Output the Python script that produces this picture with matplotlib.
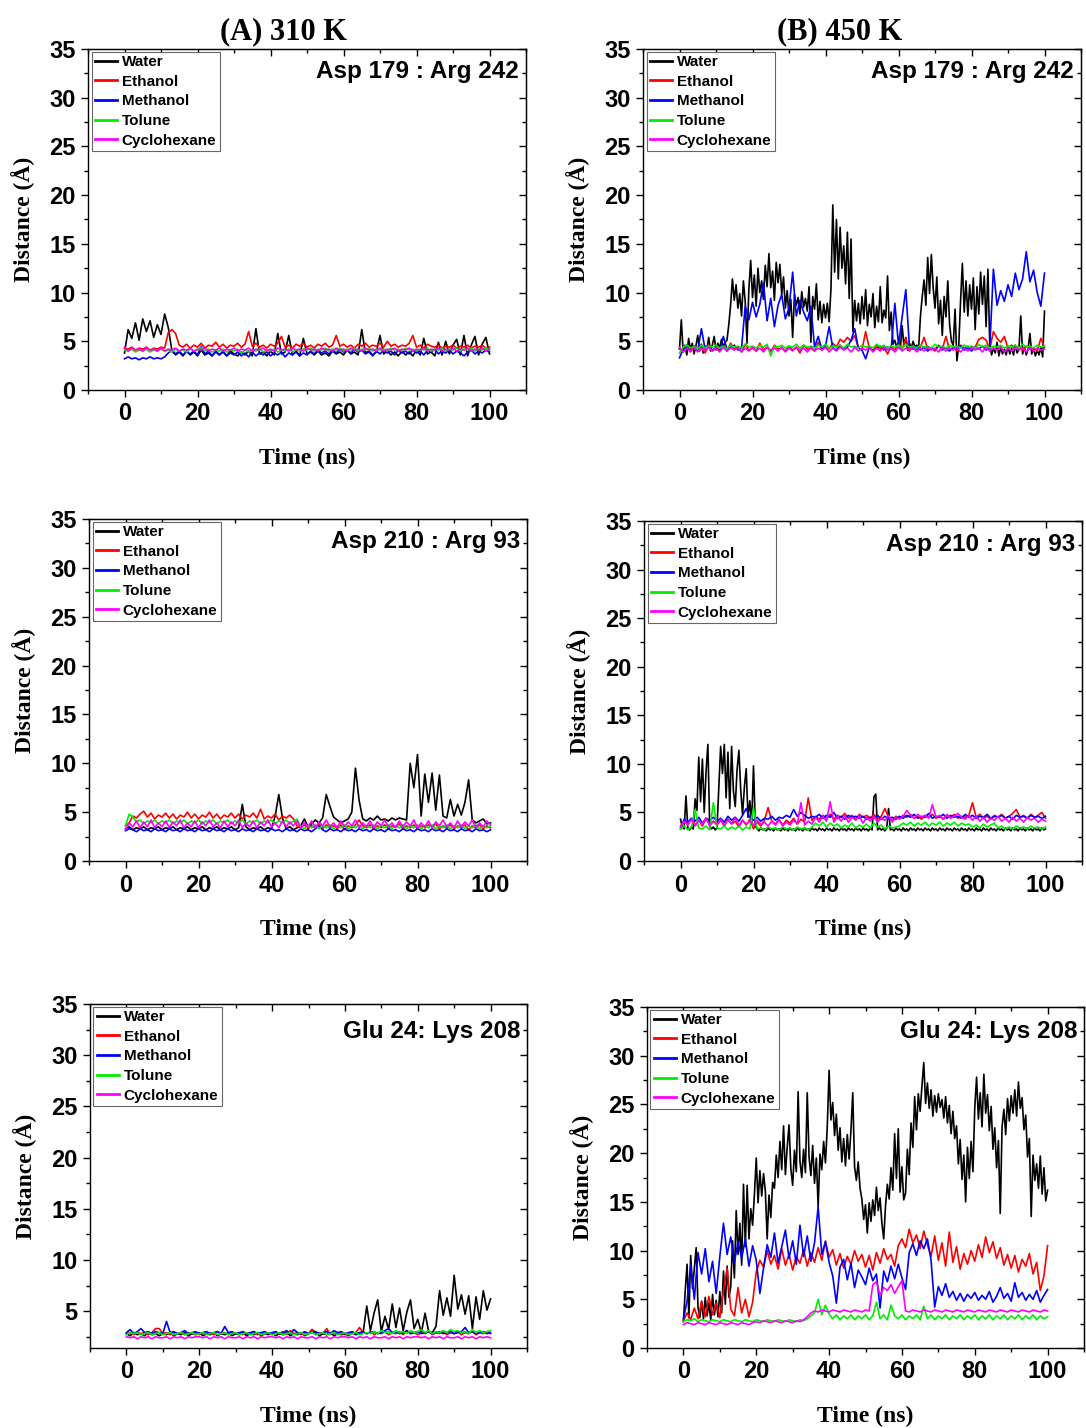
import numpy as np
import matplotlib.pyplot as plt
from matplotlib.ticker import MultipleLocator, NullFormatter

plt.rcParams['font.family'] = ['Liberation Sans', 'DejaVu Sans']
plt.rcParams['font.weight'] = 'bold'

solvents = ["Water", "Ethanol", "Methanol", "Tolune", "Cyclohexane"]
colors = ["black", "#ff0000", "#0000ff", "#00ee00", "#ff00ff"]

# ---- Asp 179 : Arg 242, 310 K  (1 ns spacing) ----
asp179_310_water = [
    3.8, 6.2, 5.3, 6.9, 5.1, 7.3, 6.0, 7.1, 5.4, 6.7,
    5.7, 7.8, 6.4, 4.0, 3.6, 3.9, 3.5, 4.0, 3.6, 3.9,
    3.5, 4.1, 3.6, 3.8, 3.5, 4.0, 3.6, 3.9, 3.5, 4.0,
    3.7, 3.5, 3.9, 3.6, 4.0, 3.5, 6.3, 3.7, 3.9, 3.5,
    4.0, 3.6, 5.8, 3.7, 3.9, 5.6, 3.6, 4.0, 3.5, 5.3,
    3.7, 3.9, 3.6, 4.0, 3.6, 3.8, 3.5, 4.0, 3.7, 3.9,
    3.6, 4.1, 3.7, 3.9, 3.6, 6.2, 3.8, 4.0, 3.6, 3.9,
    5.6, 3.7, 4.0, 3.6, 3.9, 3.5, 4.0, 3.6, 3.9, 3.5,
    4.1, 3.6, 5.3, 3.7, 3.9, 3.5, 4.9, 3.6, 5.0, 3.7,
    4.6, 5.2, 3.6, 5.6, 3.5, 4.6, 5.5, 3.6, 4.7, 5.4,
    3.7]
asp179_310_ethanol = [
    4.3, 4.2, 4.4, 4.1, 4.3, 4.2, 4.4, 4.1, 4.3, 4.2,
    4.4, 4.3, 5.9, 6.2, 5.8, 4.6, 4.4, 4.7, 4.3, 4.6,
    4.4, 4.8, 4.3, 4.6, 4.5, 4.9, 4.4, 4.7, 4.3, 4.6,
    4.5, 4.8, 4.4, 4.7, 6.0, 4.5, 4.8, 4.4, 4.6, 4.3,
    4.7, 4.5, 4.8, 5.5, 4.4, 4.6, 4.3, 4.7, 4.5, 4.8,
    4.4, 4.6, 4.3, 4.7, 4.5, 4.8, 4.4, 4.6, 5.6, 4.5,
    4.7, 4.4, 4.6, 4.3, 4.7, 4.5, 4.8, 4.4, 4.6, 4.5,
    4.8, 4.4, 5.0, 4.5, 4.7, 4.4, 4.6, 4.5, 4.8, 5.6,
    4.4, 4.6, 4.3, 4.7, 4.5, 4.4, 4.6, 4.3, 4.5, 4.4,
    4.6, 4.3, 4.5, 4.4, 4.6, 4.3, 4.5, 4.4, 4.6, 4.3,
    4.4]
asp179_310_methanol = [
    3.2, 3.4, 3.2, 3.3, 3.1, 3.3, 3.2, 3.4, 3.2, 3.3,
    3.2, 3.4, 3.8, 4.1, 3.7, 4.0, 3.6, 3.9, 3.7, 4.0,
    3.6, 4.5, 3.7, 4.0, 3.5, 3.9, 3.6, 4.0, 3.5, 3.8,
    3.6, 3.9, 3.5, 3.8, 3.4, 3.9, 3.5, 3.8, 3.6, 3.9,
    3.5, 3.8, 3.6, 3.9, 3.4, 3.8, 3.6, 3.9, 3.5, 3.8,
    3.6, 4.0, 3.7, 4.1, 3.8, 4.0, 3.7, 4.1, 3.8, 4.2,
    3.9, 4.1, 3.8, 4.2, 3.9, 4.1, 3.7, 3.9, 3.5, 4.0,
    3.7, 4.1, 3.8, 4.0, 3.6, 4.1, 3.8, 4.0, 3.7, 4.1,
    3.8, 4.0, 3.6, 4.1, 3.9, 4.2, 3.7, 4.0, 3.8, 4.1,
    3.7, 4.0, 3.8, 3.5, 3.9, 4.1, 3.7, 4.0, 3.8, 4.1,
    3.9]
asp179_310_tolune = [
    4.1, 4.0, 4.2, 3.9, 4.1, 4.0, 4.2, 3.9, 4.1, 4.0,
    4.2, 4.0, 4.1, 3.9, 4.2, 4.0, 4.1, 3.9, 4.2, 4.0,
    4.1, 4.4, 4.0, 4.2, 3.9, 4.1, 4.0, 4.2, 3.9, 4.1,
    4.0, 4.2, 3.8, 4.1, 3.9, 4.1, 4.0, 4.2, 3.9, 4.1,
    4.0, 4.2, 3.9, 4.1, 4.0, 4.2, 3.9, 4.1, 4.0, 4.2,
    4.1, 4.3, 4.0, 4.2, 4.1, 4.3, 4.0, 4.2, 4.1, 4.3,
    4.0, 4.2, 4.1, 4.3, 4.0, 4.2, 4.1, 4.3, 4.0, 4.2,
    4.1, 4.2, 4.0, 4.3, 4.1, 4.2, 4.0, 4.3, 4.1, 4.2,
    4.0, 4.2, 4.1, 4.3, 4.0, 4.2, 4.1, 4.3, 4.0, 4.2,
    4.1, 4.3, 4.0, 4.2, 4.1, 4.3, 4.0, 4.2, 4.1, 4.3,
    4.1]
asp179_310_cyclohexane = [
    4.4, 4.0, 4.3, 4.1, 4.2, 4.0, 4.3, 4.1, 4.2, 4.0,
    4.3, 4.0, 4.2, 4.1, 4.3, 4.0, 4.2, 4.1, 4.3, 4.0,
    4.2, 4.1, 4.3, 4.0, 4.2, 4.1, 4.3, 4.0, 4.2, 4.1,
    4.3, 4.0, 4.2, 4.1, 4.3, 4.0, 4.2, 4.1, 4.3, 4.0,
    4.2, 4.0, 4.3, 4.1, 4.2, 4.0, 4.3, 4.1, 4.2, 4.0,
    4.3, 4.1, 4.2, 4.0, 4.3, 4.1, 4.2, 4.0, 4.3, 4.1,
    4.2, 4.0, 4.3, 4.1, 4.2, 4.0, 4.3, 4.1, 4.2, 4.0,
    4.3, 4.0, 4.2, 4.1, 4.3, 4.0, 4.2, 4.1, 4.3, 4.0,
    4.2, 4.1, 4.3, 4.0, 4.2, 4.1, 4.3, 4.0, 4.2, 4.1,
    4.3, 4.0, 4.2, 4.1, 4.3, 4.0, 4.2, 4.1, 4.3, 4.0,
    4.2]

# ---- Asp 179 : Arg 242, 450 K  (water at 0.5 ns, rest 1 ns) ----
asp179_450_water = [
    4.2, 7.2, 3.9, 4.6, 3.6, 5.3, 4.1, 4.8, 3.7, 4.5,
    5.6, 4.0, 4.7, 3.8, 4.5, 4.2, 5.4, 4.0, 4.6, 5.5,
    4.1, 4.8, 4.3, 5.2, 4.4, 4.9, 5.1, 6.7, 8.7, 11.4,
    9.2, 10.8, 8.4, 9.9, 7.6, 11.2, 9.1, 4.8, 10.3, 13.3,
    9.5, 11.8, 8.6, 12.5, 10.0, 11.2, 9.3, 12.8, 10.6, 14.0,
    10.5, 12.2, 9.2, 13.1, 11.0, 12.9, 9.8, 11.6, 8.4, 10.2,
    7.6, 9.3, 5.4, 9.8, 8.7, 9.5, 7.8, 10.1, 8.5, 9.4,
    8.1, 10.6, 4.9, 9.6, 8.3, 10.9, 7.2, 9.1, 6.9, 8.8,
    7.4, 8.9, 7.0, 10.4, 19.0, 12.1, 17.5, 11.4, 16.7, 12.5,
    14.8, 10.9, 16.2, 9.4, 15.5, 6.0, 9.2, 7.1, 8.9, 6.8,
    9.6, 7.3, 10.3, 6.6, 8.8, 7.5, 9.9, 6.4, 8.6, 7.0,
    10.6, 6.9, 8.2, 7.4, 11.7, 6.1, 8.0, 4.7, 5.1, 4.4,
    4.9, 4.2, 6.6, 4.5, 5.4, 4.1, 4.8, 4.3, 5.0, 4.4,
    4.6, 4.2, 7.5, 9.6, 11.3, 8.7, 13.6, 9.9, 13.9, 10.5,
    8.4, 11.6, 6.8, 9.2, 5.6, 9.6, 7.5, 11.2, 6.7, 5.0,
    4.6, 8.3, 3.0, 4.5, 9.1, 13.0, 8.0, 11.2, 7.6, 10.8,
    8.3, 11.5, 6.2, 10.6, 7.8, 12.1, 8.8, 11.7, 6.5, 12.4,
    4.7, 3.6, 4.3, 3.8, 4.9, 3.5, 4.4, 3.7, 4.2, 3.6,
    4.5, 3.7, 4.3, 3.6, 4.6, 3.8, 4.2, 7.6, 3.7, 4.4,
    3.6, 4.2, 5.8, 3.7, 4.3, 3.5, 4.1, 3.6, 4.4, 3.4,
    8.1]
asp179_450_ethanol = [
    4.2, 4.0, 4.4, 3.9, 4.5, 4.1, 4.3, 3.8, 4.6, 4.0,
    4.4, 4.1, 4.5, 4.0, 4.8, 4.2, 4.3, 3.9, 4.7, 4.1,
    4.3, 4.0, 4.8, 4.1, 4.4, 3.9, 4.6, 4.2, 4.3, 4.0,
    4.5, 4.1, 4.4, 3.8, 4.6, 4.2, 4.3, 4.0, 4.9, 4.1,
    4.4, 4.2, 4.8, 4.4, 5.2, 4.9, 5.4, 5.0, 5.6, 4.3,
    4.1, 6.0, 4.3, 4.0, 4.6, 4.2, 4.4, 3.7, 4.5, 4.1,
    4.8, 4.2, 5.3, 4.0, 4.5, 4.1, 4.4, 5.4, 4.2, 4.3,
    4.0, 4.6, 4.2, 5.5, 4.1, 4.4, 4.0, 4.6, 4.3, 4.5,
    4.2, 4.4, 5.2, 5.4, 5.1, 4.2, 6.0, 5.3, 4.9, 5.5,
    4.3, 4.6, 4.2, 4.4, 4.1, 4.5, 4.2, 4.3, 4.0, 5.3,
    4.4]
asp179_450_methanol = [
    3.3, 4.2, 4.6, 4.1, 4.5, 4.0, 6.3, 4.2, 4.4, 4.1,
    4.3, 4.0, 5.5, 4.2, 4.4, 4.6, 4.1, 4.3, 8.6, 7.2,
    9.0, 7.5, 8.8, 11.0, 7.1, 9.4, 6.5, 8.7, 9.8, 7.3,
    8.4, 12.1, 7.6, 9.2, 8.0, 7.1, 8.6, 4.4, 5.5, 4.2,
    4.5, 6.5, 4.3, 4.1, 4.6, 4.2, 4.4, 5.1, 6.3, 4.3,
    4.1, 3.2, 4.4, 4.0, 4.3, 4.5, 4.1, 4.4, 4.2, 8.9,
    4.6, 7.5, 10.3, 4.4, 4.2, 4.5, 4.1, 4.4, 4.0, 4.3,
    4.2, 4.5, 4.1, 4.3, 4.0, 4.4, 4.2, 4.5, 4.1, 4.3,
    4.0, 4.4, 4.2, 4.5, 4.1, 4.3, 12.4, 8.7, 10.2, 9.1,
    10.8, 9.6, 12.0, 10.3, 11.4, 14.2, 11.1, 12.3, 10.0, 8.6,
    12.0]
asp179_450_tolune = [
    3.8, 4.4, 4.6, 4.3, 4.5, 4.2, 4.6, 4.3, 4.5, 4.4,
    4.6, 4.3, 4.5, 4.2, 4.6, 4.4, 4.5, 4.3, 4.7, 4.4,
    4.5, 4.3, 4.6, 4.4, 4.7, 3.5, 4.5, 4.4, 4.6, 4.3,
    4.5, 4.4, 4.7, 4.3, 4.6, 4.4, 4.5, 4.3, 4.6, 4.4,
    4.7, 4.3, 4.5, 4.4, 4.6, 4.3, 4.7, 4.4, 4.5, 4.3,
    4.6, 4.4, 4.5, 4.3, 4.7, 4.4, 4.6, 4.3, 4.5, 4.4,
    4.6, 4.3, 4.7, 4.4, 4.5, 4.3, 4.6, 4.4, 4.5, 4.3,
    4.7, 4.4, 4.5, 4.3, 4.6, 4.4, 4.5, 4.3, 4.6, 4.4,
    4.5, 4.3, 4.7, 4.4, 4.6, 4.3, 4.5, 4.4, 4.6, 4.3,
    4.5, 4.4, 4.6, 4.3, 4.7, 4.4, 4.5, 4.3, 4.6, 4.4,
    4.5]
asp179_450_cyclohexane = [
    4.4, 3.9, 4.3, 4.0, 4.4, 3.9, 4.3, 4.1, 4.4, 4.0,
    4.3, 3.9, 4.4, 4.0, 4.3, 4.1, 4.4, 3.9, 4.3, 4.0,
    4.4, 4.0, 4.3, 3.9, 4.4, 4.1, 4.3, 4.0, 4.4, 3.9,
    4.3, 4.0, 4.4, 4.1, 4.3, 3.9, 4.4, 4.0, 4.3, 4.1,
    4.4, 3.9, 4.3, 4.0, 4.4, 4.1, 4.3, 3.9, 4.4, 4.0,
    4.3, 4.1, 4.4, 3.9, 4.3, 4.0, 4.4, 4.1, 4.3, 3.9,
    4.4, 4.0, 4.3, 4.1, 4.4, 3.9, 4.3, 4.0, 4.4, 4.1,
    4.3, 3.9, 4.4, 4.0, 4.3, 4.1, 4.4, 3.9, 4.3, 4.0,
    4.4, 4.1, 4.3, 3.9, 4.4, 4.0, 4.3, 4.1, 4.4, 3.9,
    4.3, 4.0, 4.4, 4.1, 4.3, 3.9, 4.4, 4.0, 4.3, 4.1,
    4.2]

# ---- Asp 210 : Arg 93, 310 K ----
asp210_310_water = [
    3.3, 3.5, 3.2, 3.4, 3.3, 3.5, 3.2, 3.4, 3.3, 3.5,
    3.2, 3.4, 3.3, 3.5, 3.2, 3.4, 3.3, 3.5, 3.2, 3.4,
    3.3, 3.5, 3.2, 3.4, 3.3, 3.5, 3.2, 3.4, 3.3, 3.5,
    3.2, 3.4, 5.8, 3.5, 3.2, 3.4, 3.3, 3.5, 3.2, 3.4,
    3.3, 4.6, 6.8, 4.4, 3.3, 3.5, 3.2, 3.4, 3.6, 4.3,
    3.5, 3.8, 4.2, 3.9, 4.4, 6.8, 5.6, 4.5, 4.2, 3.9,
    4.1, 4.3, 5.0, 9.5, 6.2, 4.3, 4.1, 4.4, 4.2, 4.6,
    4.2, 4.3, 4.1, 4.4, 4.2, 4.4, 4.3, 4.2, 10.0, 7.5,
    10.9, 4.6, 8.9, 6.0, 9.0, 5.2, 8.8, 4.6, 4.4, 6.3,
    4.6, 5.8, 4.7, 6.0, 8.3, 4.2, 3.9, 4.1, 4.3, 3.8,
    3.9]
asp210_310_ethanol = [
    3.6, 3.9, 4.6, 4.4, 4.8, 5.1, 4.5, 4.9, 4.3, 4.7,
    4.5, 4.9, 4.4, 4.8, 4.3, 4.7, 4.5, 5.0, 4.4, 4.8,
    4.3, 4.7, 4.5, 5.0, 4.4, 4.8, 4.3, 4.7, 4.5, 4.9,
    4.4, 4.8, 4.3, 4.7, 4.5, 4.9, 4.4, 5.3, 4.3, 4.6,
    4.4, 4.8, 4.2, 4.6, 4.4, 4.7, 4.3, 3.6, 3.4, 3.7,
    3.3, 3.6, 3.4, 3.8, 3.3, 3.7, 3.4, 3.6, 3.3, 3.7,
    3.2, 3.6, 3.4, 3.7, 4.2, 3.6, 3.4, 3.7, 3.3, 3.6,
    3.4, 3.7, 3.3, 3.6, 3.5, 3.8, 3.3, 3.6, 3.4, 3.7,
    3.3, 3.6, 3.4, 3.7, 3.5, 3.8, 3.3, 3.6, 3.4, 3.7,
    3.3, 3.6, 3.4, 3.7, 3.2, 3.6, 3.4, 3.7, 3.3, 3.6,
    3.4]
asp210_310_methanol = [
    3.1, 3.3, 3.2, 3.0, 3.3, 3.1, 3.2, 3.0, 3.3, 3.1,
    3.2, 3.0, 3.3, 3.1, 3.2, 3.0, 3.3, 3.1, 3.2, 3.0,
    3.3, 3.1, 3.2, 3.0, 3.3, 3.1, 3.2, 3.0, 3.3, 3.1,
    3.2, 3.0, 3.3, 3.1, 3.2, 3.0, 3.3, 3.1, 3.2, 3.0,
    3.3, 3.1, 3.2, 3.0, 3.3, 3.1, 3.2, 3.0, 3.3, 3.1,
    3.2, 3.0, 3.3, 3.6, 3.2, 3.0, 3.3, 3.1, 3.2, 3.0,
    3.3, 3.1, 3.2, 3.0, 3.3, 3.1, 3.2, 3.0, 3.3, 3.1,
    3.2, 3.0, 3.3, 3.1, 3.2, 3.0, 3.3, 3.1, 3.2, 3.0,
    3.3, 3.1, 3.2, 3.0, 3.3, 3.1, 3.2, 3.0, 3.3, 3.1,
    3.2, 3.0, 3.3, 3.1, 3.2, 3.0, 3.3, 3.1, 3.2, 3.0,
    3.2]
asp210_310_tolune = [
    3.6, 4.8, 4.5, 4.0, 4.2, 3.8, 4.1, 3.9, 4.2, 3.8,
    4.1, 3.9, 4.2, 3.8, 4.1, 3.9, 4.2, 3.8, 4.1, 3.9,
    4.2, 3.8, 4.1, 3.9, 4.2, 3.8, 4.1, 3.9, 4.2, 3.8,
    4.1, 3.9, 4.2, 3.8, 4.1, 3.9, 4.2, 3.8, 4.1, 3.9,
    4.2, 3.8, 4.1, 3.9, 4.2, 3.8, 4.1, 4.3, 3.5, 3.3,
    3.6, 3.4, 3.7, 3.3, 3.6, 3.4, 3.7, 3.3, 3.6, 3.4,
    3.7, 3.3, 3.6, 3.4, 3.7, 3.3, 3.6, 3.4, 3.7, 3.3,
    3.6, 3.4, 3.7, 3.3, 3.6, 3.4, 3.7, 3.3, 3.6, 3.4,
    3.7, 3.3, 3.6, 3.4, 3.7, 3.3, 3.6, 3.4, 3.7, 3.3,
    3.6, 3.4, 3.7, 3.3, 3.6, 3.4, 3.7, 3.3, 3.6, 3.4,
    3.6]
asp210_310_cyclohexane = [
    3.2, 3.9, 3.5, 4.1, 3.4, 4.0, 3.5, 4.2, 3.4, 3.9,
    3.5, 4.1, 3.4, 4.0, 3.6, 4.2, 3.4, 3.9, 3.5, 4.1,
    3.4, 4.0, 3.6, 4.2, 3.5, 3.9, 3.4, 4.1, 3.5, 4.0,
    3.6, 4.2, 3.4, 3.9, 3.5, 4.1, 3.4, 4.0, 3.6, 4.2,
    3.5, 3.9, 3.4, 4.1, 3.5, 4.0, 3.6, 4.1, 3.4, 3.9,
    3.5, 4.1, 3.4, 4.0, 3.6, 4.2, 3.5, 3.9, 3.4, 4.1,
    3.5, 4.0, 3.6, 4.2, 3.4, 3.9, 3.5, 4.1, 3.4, 4.0,
    3.6, 4.2, 3.5, 3.9, 3.4, 4.1, 3.5, 4.0, 3.6, 4.2,
    3.4, 3.9, 3.5, 4.1, 3.4, 4.0, 3.6, 4.2, 3.5, 3.9,
    3.4, 4.1, 3.5, 4.0, 3.6, 4.2, 3.4, 3.9, 3.5, 4.1,
    3.7]

# ---- Asp 210 : Arg 93, 450 K  (water at 0.5 ns) ----
asp210_450_water = [
    4.3, 3.5, 3.3, 6.7, 3.4, 3.2, 3.5, 3.3, 6.4, 5.2,
    10.7, 6.1, 10.5, 5.0, 9.2, 12.0, 3.6, 3.3, 3.5, 3.2,
    3.4, 7.5, 11.8, 9.0, 12.0, 6.5, 11.2, 5.4, 11.8, 7.2,
    5.6, 9.4, 11.4, 7.3, 4.8, 7.6, 9.5, 4.5, 6.2, 3.9,
    9.8, 3.6, 3.3, 3.1, 3.4, 3.2, 3.3, 3.1, 3.4, 3.2,
    3.3, 3.1, 3.4, 3.2, 3.3, 3.1, 3.4, 3.2, 3.3, 3.1,
    3.4, 3.2, 3.3, 3.1, 3.4, 3.2, 3.3, 3.1, 3.4, 3.2,
    3.3, 3.1, 3.4, 3.2, 3.3, 3.1, 3.4, 3.2, 3.3, 3.1,
    3.4, 3.2, 3.3, 3.1, 3.4, 3.2, 3.3, 3.1, 3.4, 3.2,
    3.3, 3.1, 3.4, 3.2, 3.3, 3.1, 3.4, 3.2, 3.3, 3.1,
    3.4, 3.2, 3.3, 3.1, 3.4, 3.2, 6.6, 6.9, 3.2, 3.4,
    3.2, 3.3, 3.1, 3.4, 5.4, 3.2, 3.3, 3.1, 3.4, 3.2,
    3.3, 3.1, 3.4, 3.2, 3.3, 3.1, 3.4, 3.2, 3.3, 3.1,
    3.4, 3.2, 3.3, 3.1, 3.4, 3.2, 3.3, 3.1, 3.4, 3.2,
    3.3, 3.1, 3.4, 3.2, 3.3, 3.1, 3.4, 3.2, 3.3, 3.1,
    3.4, 3.2, 3.3, 3.1, 3.4, 3.2, 3.3, 3.1, 3.4, 3.2,
    3.3, 3.1, 3.4, 3.2, 3.3, 3.1, 3.4, 3.2, 3.3, 3.1,
    3.4, 3.2, 3.3, 3.1, 3.4, 3.2, 3.3, 3.1, 3.4, 3.2,
    3.3, 3.1, 3.4, 3.2, 3.3, 3.1, 3.4, 3.2, 3.3, 3.1,
    3.4, 3.2, 3.3, 3.1, 3.4, 3.2, 3.3, 3.1, 3.4, 3.2,
    3.3]
asp210_450_ethanol = [
    3.6, 4.1, 3.8, 4.3, 3.7, 4.2, 3.6, 4.4, 3.8, 4.1,
    3.7, 4.2, 3.6, 4.3, 3.8, 4.1, 3.5, 4.2, 3.7, 4.3,
    3.3, 4.0, 3.6, 4.2, 5.5, 4.1, 3.8, 4.3, 3.7, 4.2,
    3.9, 4.4, 3.8, 4.3, 4.0, 6.5, 4.2, 4.6, 4.3, 4.7,
    4.4, 4.8, 4.3, 4.7, 4.5, 4.9, 4.4, 4.7, 4.3, 4.8,
    4.5, 4.7, 4.4, 4.8, 4.3, 4.6, 5.4, 4.5, 4.2, 4.6,
    4.4, 4.7, 4.5, 4.8, 4.4, 4.6, 4.3, 4.7, 4.5, 4.8,
    4.4, 4.6, 4.3, 4.7, 4.5, 4.8, 4.4, 4.6, 4.5, 4.7,
    6.0, 4.5, 4.8, 4.4, 4.6, 4.3, 4.7, 4.5, 4.8, 4.4,
    4.6, 4.9, 5.3, 4.5, 4.7, 4.4, 4.8, 4.5, 4.7, 5.0,
    4.4]
asp210_450_methanol = [
    3.3, 4.3, 4.0, 4.4, 4.1, 4.5, 3.9, 4.4, 4.2, 4.5,
    4.1, 4.4, 4.0, 4.6, 4.2, 4.5, 4.1, 4.7, 5.4, 4.5,
    4.2, 4.5, 4.1, 4.4, 4.3, 4.6, 4.2, 4.5, 4.4, 4.7,
    4.5, 5.3, 4.6, 5.0, 4.7, 4.4, 4.6, 4.5, 4.8, 4.4,
    4.7, 4.5, 5.0, 4.4, 4.6, 4.3, 4.7, 4.5, 4.6, 4.4,
    4.6, 4.3, 4.5, 4.4, 4.7, 4.3, 4.6, 4.4, 4.5, 4.3,
    4.6, 4.4, 4.7, 4.5, 4.8, 4.4, 4.6, 4.5, 4.9, 4.4,
    4.6, 4.5, 4.8, 4.4, 4.7, 4.5, 4.6, 4.4, 4.8, 4.5,
    4.7, 4.4, 4.6, 4.5, 4.8, 4.4, 4.6, 4.5, 4.7, 4.4,
    4.6, 4.3, 4.7, 4.5, 4.6, 4.4, 4.7, 4.5, 4.6, 4.4,
    4.6]
asp210_450_tolune = [
    3.3, 3.6, 3.2, 3.5, 5.3, 3.4, 3.3, 3.6, 3.2, 6.0,
    3.4, 3.3, 3.6, 3.2, 3.5, 3.3, 3.6, 3.2, 3.5, 3.3,
    5.5, 3.3, 3.4, 3.2, 3.5, 3.3, 3.4, 3.2, 3.5, 3.3,
    3.4, 3.2, 3.5, 3.3, 3.4, 3.2, 3.5, 3.9, 3.6, 4.0,
    3.5, 3.9, 3.6, 3.8, 3.4, 3.7, 3.5, 3.9, 3.4, 3.7,
    3.5, 3.8, 3.4, 3.9, 3.5, 3.7, 3.3, 3.6, 3.4, 3.5,
    3.6, 3.9, 3.7, 4.0, 3.6, 3.9, 3.7, 4.0, 3.6, 3.9,
    3.7, 4.0, 3.6, 3.9, 3.7, 4.0, 3.6, 3.9, 3.7, 3.8,
    3.5, 3.7, 3.4, 3.8, 3.5, 3.7, 3.9, 3.4, 3.6, 3.3,
    3.5, 3.3, 3.6, 3.4, 3.5, 3.3, 3.6, 3.4, 3.5, 3.3,
    3.5]
asp210_450_cyclohexane = [
    3.5, 4.1, 3.7, 4.3, 3.6, 4.2, 3.8, 4.4, 3.6, 4.1,
    3.8, 4.3, 3.7, 4.2, 3.9, 4.4, 3.7, 4.2, 3.8, 4.1,
    3.7, 4.2, 3.8, 4.0, 3.6, 4.1, 3.7, 4.2, 3.6, 4.0,
    3.7, 4.2, 3.8, 6.0, 3.7, 4.1, 3.8, 4.5, 4.0, 4.6,
    4.1, 6.1, 4.0, 4.6, 4.1, 4.7, 4.0, 4.5, 4.2, 4.6,
    3.9, 4.5, 4.1, 4.6, 4.0, 4.4, 4.2, 4.7, 4.0, 4.5,
    4.3, 4.6, 5.2, 4.7, 4.4, 4.8, 4.5, 4.7, 4.4, 5.8,
    4.5, 4.7, 4.3, 4.8, 4.4, 4.6, 4.9, 4.5, 4.3, 4.7,
    4.2, 4.6, 4.1, 4.5, 4.0, 4.4, 4.2, 4.6, 4.1, 4.4,
    4.0, 4.5, 4.1, 4.4, 4.0, 4.5, 4.2, 4.4, 4.0, 4.3,
    4.1]

# ---- Glu 24 : Lys 208, 310 K ----
glu24_310_water = [
    2.8, 2.6, 2.9, 2.7, 2.8, 2.6, 2.9, 2.7, 2.8, 2.6,
    2.8, 2.7, 2.9, 2.6, 2.8, 2.7, 2.9, 2.6, 2.8, 2.7,
    2.9, 2.6, 2.8, 2.7, 2.9, 2.6, 2.8, 2.7, 2.9, 2.6,
    2.8, 2.7, 2.9, 2.6, 2.8, 2.7, 2.9, 2.6, 2.8, 2.7,
    2.9, 2.6, 2.8, 2.7, 2.9, 2.6, 2.8, 2.7, 2.9, 2.6,
    2.8, 3.2, 2.9, 2.6, 2.8, 2.7, 2.9, 2.6, 2.8, 2.7,
    2.8, 2.6, 2.9, 2.7, 2.8, 2.9, 5.5, 3.1, 4.8, 6.1,
    3.0, 4.5, 3.2, 5.7, 3.4, 5.3, 3.1, 4.9, 6.1, 3.3,
    4.2, 2.9, 4.8, 3.0, 2.9, 3.5, 7.0, 4.6, 6.3, 4.5,
    8.5, 5.2, 6.6, 4.7, 6.5, 3.3, 6.4, 4.2, 7.0, 5.1,
    6.2]
glu24_310_ethanol = [
    2.8, 2.9, 2.7, 2.9, 2.8, 2.9, 2.7, 2.9, 3.3, 3.3,
    2.8, 2.9, 2.7, 2.9, 2.8, 2.9, 2.7, 2.9, 2.8, 2.9,
    2.7, 2.9, 2.8, 2.9, 2.7, 3.0, 2.8, 2.9, 2.7, 2.9,
    2.8, 2.9, 2.7, 2.9, 2.8, 3.0, 2.7, 2.9, 2.8, 2.9,
    2.7, 2.9, 2.8, 3.0, 2.7, 3.1, 2.8, 2.9, 2.7, 2.9,
    2.8, 3.2, 2.7, 2.9, 2.8, 3.3, 2.7, 2.9, 2.8, 2.9,
    2.7, 2.9, 2.8, 2.9, 3.4, 2.9, 2.8, 3.0, 2.7, 2.9,
    2.8, 3.0, 2.7, 2.9, 2.8, 3.0, 2.7, 3.1, 2.8, 2.9,
    2.7, 2.9, 2.8, 3.0, 2.7, 2.9, 2.8, 3.0, 2.7, 2.9,
    2.8, 3.0, 2.7, 2.9, 2.8, 3.0, 2.7, 2.9, 2.8, 3.0,
    2.8]
glu24_310_methanol = [
    2.9, 3.2, 2.8, 3.0, 3.3, 2.9, 3.0, 2.8, 3.0, 2.9,
    2.8, 4.0, 2.9, 3.0, 2.8, 2.9, 3.1, 2.8, 2.9, 3.0,
    2.8, 2.9, 3.0, 2.8, 2.9, 3.0, 2.8, 3.5, 2.9, 3.0,
    2.8, 2.9, 3.0, 2.8, 2.9, 3.0, 2.8, 2.9, 3.0, 2.8,
    2.9, 3.0, 2.8, 2.9, 3.1, 2.8, 3.2, 2.9, 2.8, 3.0,
    2.8, 2.9, 3.0, 2.8, 2.9, 3.0, 2.8, 3.1, 2.9, 3.0,
    2.8, 2.9, 3.0, 2.8, 2.9, 3.0, 2.8, 2.9, 3.0, 2.8,
    2.9, 3.1, 3.3, 2.9, 3.0, 2.8, 2.9, 3.1, 2.8, 2.9,
    3.0, 2.8, 2.9, 3.0, 2.8, 2.9, 3.0, 2.8, 2.9, 3.0,
    2.8, 2.9, 3.0, 3.4, 2.9, 3.0, 2.8, 2.9, 3.0, 2.8,
    2.9]
glu24_310_tolune = [
    2.7, 2.9, 2.8, 2.9, 2.7, 2.8, 2.9, 2.7, 2.8, 2.9,
    2.7, 2.8, 2.9, 2.7, 2.8, 2.9, 2.7, 2.8, 2.9, 2.7,
    2.8, 2.9, 2.7, 2.8, 2.9, 2.7, 2.8, 2.9, 2.7, 2.8,
    2.9, 2.7, 2.8, 2.9, 2.7, 2.8, 2.9, 2.7, 2.8, 2.9,
    2.7, 2.8, 2.9, 2.7, 2.8, 2.9, 2.7, 2.8, 2.9, 2.7,
    2.8, 2.9, 2.7, 2.8, 2.9, 2.7, 2.8, 2.9, 2.7, 2.8,
    2.9, 2.7, 2.8, 2.9, 2.7, 2.8, 2.9, 2.8, 3.0, 2.8,
    3.1, 2.9, 3.0, 2.8, 3.1, 2.9, 3.0, 2.8, 3.1, 2.9,
    3.0, 3.2, 2.9, 3.1, 2.8, 3.0, 2.9, 3.1, 2.9, 3.2,
    3.0, 3.1, 2.9, 3.0, 2.8, 3.2, 2.9, 3.1, 2.9, 3.0,
    3.1]
glu24_310_cyclohexane = [
    2.5, 2.4, 2.5, 2.3, 2.5, 2.4, 2.5, 2.3, 2.5, 2.4,
    2.4, 2.5, 2.3, 2.5, 2.4, 2.5, 2.3, 2.5, 2.4, 2.5,
    2.5, 2.4, 2.5, 2.3, 2.5, 2.4, 2.5, 2.3, 2.5, 2.4,
    2.4, 2.5, 2.3, 2.5, 2.4, 2.5, 2.3, 2.5, 2.4, 2.5,
    2.5, 2.4, 2.5, 2.3, 2.5, 2.4, 2.5, 2.3, 2.5, 2.4,
    2.4, 2.5, 2.3, 2.5, 2.4, 2.5, 2.3, 2.5, 2.4, 2.5,
    2.5, 2.4, 2.5, 2.3, 2.5, 2.4, 2.5, 2.3, 2.5, 2.4,
    2.4, 2.5, 2.3, 2.5, 2.4, 2.5, 2.3, 2.5, 2.4, 2.5,
    2.5, 2.4, 2.5, 2.3, 2.5, 2.4, 2.5, 2.3, 2.5, 2.4,
    2.4, 2.5, 2.3, 2.5, 2.4, 2.5, 2.3, 2.5, 2.4, 2.5,
    2.4]

# ---- Glu 24 : Lys 208, 450 K  (water at 0.5 ns) ----
glu24_450_water = [
    2.7, 5.9, 8.6, 3.1, 9.5, 6.1, 8.2, 10.3, 4.2, 3.1,
    4.8, 3.0, 5.2, 3.3, 4.6, 2.9, 5.5, 3.4, 4.9, 3.2,
    5.8, 3.6, 7.9, 4.5, 8.4, 5.2, 6.3, 11.0, 7.2, 14.1,
    9.6, 12.8, 8.5, 16.8, 10.4, 16.7, 11.2, 14.3, 12.6, 15.8,
    19.5, 14.9, 18.2, 15.6, 17.9, 16.1, 11.2, 15.7, 13.4, 17.0,
    16.4, 19.8, 17.5, 21.2, 18.3, 22.8, 17.8, 20.6, 22.9, 18.4,
    16.7, 20.3, 18.1, 26.3, 19.2, 17.5, 20.4, 18.0, 26.2, 19.6,
    17.7, 20.8, 16.9, 19.5, 14.5, 19.9, 18.3, 21.2, 19.0, 22.7,
    28.5, 23.4, 25.2, 21.8, 24.0, 20.3, 22.6, 19.1, 21.5, 18.7,
    21.9, 19.4, 22.3, 26.2, 18.6, 17.2, 19.1, 16.4, 15.3, 13.2,
    14.7, 11.8, 14.9, 13.0, 15.2, 13.6, 16.5, 14.1, 15.4, 12.8,
    11.2, 14.6, 16.8, 15.3, 18.5, 16.2, 22.0, 17.4, 22.5, 16.0,
    18.6, 15.2, 15.9, 20.4, 17.8, 23.1, 20.6, 25.8, 22.4, 26.1,
    24.3, 26.9, 29.3, 25.1, 27.2, 24.6, 26.5, 23.8, 25.9, 24.2,
    26.1, 24.7, 25.5, 23.6, 25.8, 23.1, 24.9, 22.0, 24.3, 21.5,
    22.8, 18.9, 21.4, 17.3, 19.8, 15.0, 20.6, 17.4, 21.2, 18.1,
    24.6, 27.8, 23.5, 26.2, 22.7, 28.1, 24.1, 26.0, 22.3, 24.8,
    20.4, 22.6, 18.5, 21.3, 13.8, 22.7, 24.5, 21.9, 25.6, 23.3,
    25.9, 24.1, 26.5, 23.8, 27.3, 24.6, 25.7, 22.4, 23.9, 19.6,
    21.5, 13.5, 19.8, 17.2, 18.9, 16.4, 19.7, 15.8, 18.5, 15.1,
    16.2]
glu24_450_ethanol = [
    2.8, 3.6, 2.9, 4.1, 3.0, 4.8, 3.2, 5.3, 3.4, 4.6,
    3.1, 5.9, 8.2, 4.0, 3.3, 6.2, 3.6, 5.0, 3.2, 4.7,
    7.8, 9.0, 8.3, 10.0, 8.6, 9.5, 8.1, 10.2, 8.5, 9.6,
    8.0, 9.4, 8.7, 10.1, 8.4, 9.8, 8.8, 10.3, 9.0, 11.0,
    9.3, 10.1, 8.5, 9.7, 8.2, 9.4, 8.6, 10.0, 8.9, 9.6,
    8.3, 9.5, 8.0, 9.8, 8.7, 10.2, 9.1, 9.6, 8.4, 10.5,
    11.2, 10.3, 12.2, 10.8, 11.6, 10.2, 12.0, 10.6, 9.4, 11.5,
    9.0, 10.8, 8.4, 11.9, 8.8, 10.4, 8.1, 9.7, 8.6, 10.0,
    8.9, 10.6, 9.3, 11.4, 9.8, 10.9, 9.2, 10.3, 8.5, 9.6,
    8.2, 9.5, 7.8, 9.1, 8.4, 9.7, 7.6, 8.8, 5.9, 7.4,
    10.5]
glu24_450_methanol = [
    3.0, 4.8, 8.5, 5.0, 9.8, 7.6, 10.2, 6.8, 8.9, 5.6,
    9.4, 12.8, 9.6, 11.4, 8.8, 10.9, 9.2, 11.2, 8.4, 10.5,
    9.0, 5.6, 8.2, 10.6, 9.3, 11.8, 8.7, 10.4, 12.1, 9.2,
    11.0, 8.6, 12.6, 9.4, 11.5, 8.9, 10.8, 14.5, 9.6, 10.9,
    8.8, 7.4, 4.6, 8.3, 9.1, 7.0, 8.7, 6.2, 8.0, 7.3,
    6.5, 8.2, 6.9, 7.6, 4.1, 7.9, 6.8, 8.4, 7.1, 8.6,
    7.2, 6.0, 9.8, 10.7, 9.5, 11.0, 10.2, 11.2, 9.0, 4.2,
    6.3, 5.4, 6.6, 5.2, 5.8, 4.9, 5.6, 4.8, 5.5, 5.1,
    5.7, 4.9, 5.4, 5.0, 5.8, 4.7, 5.3, 6.2, 5.1, 5.6,
    4.8, 6.7, 5.2, 5.7, 4.9, 5.5, 5.0, 5.9, 4.7, 5.4,
    6.0]
glu24_450_tolune = [
    2.7, 2.9, 2.8, 3.0, 2.7, 2.9, 2.8, 2.7, 2.9, 2.8,
    2.7, 2.9, 2.8, 2.7, 2.9, 2.8, 2.7, 2.9, 2.8, 2.7,
    2.9, 2.8, 2.7, 2.9, 2.8, 2.7, 2.9, 2.8, 2.7, 2.9,
    2.8, 2.7, 2.9, 2.8, 3.0, 3.3, 3.6, 5.0, 3.4, 4.4,
    3.5, 3.0, 3.4, 2.9, 3.3, 3.0, 3.4, 2.9, 3.3, 3.0,
    3.4, 2.9, 3.3, 4.7, 3.0, 3.4, 2.9, 4.4, 3.3, 3.0,
    3.4, 2.9, 3.3, 3.0, 3.4, 2.9, 4.3, 3.0, 3.4, 2.9,
    3.3, 3.0, 3.4, 2.9, 3.3, 3.0, 3.4, 2.9, 3.3, 3.0,
    3.4, 2.9, 3.3, 3.0, 3.4, 2.9, 3.3, 3.0, 3.4, 2.9,
    3.3, 3.0, 3.4, 2.9, 3.3, 3.0, 3.4, 2.9, 3.3, 3.0,
    3.2]
glu24_450_cyclohexane = [
    2.4, 2.6, 2.5, 2.4, 2.6, 2.5, 2.4, 2.6, 2.5, 2.4,
    2.6, 2.5, 2.4, 2.6, 2.5, 2.4, 2.6, 2.5, 2.4, 2.6,
    2.7, 2.6, 2.8, 2.7, 2.6, 2.8, 2.7, 2.6, 2.8, 2.7,
    2.6, 2.8, 2.7, 2.9, 3.2, 3.6, 3.8, 3.7, 3.9, 3.8,
    3.7, 3.9, 3.8, 3.7, 3.9, 3.8, 3.7, 3.9, 3.8, 3.7,
    3.9, 3.8, 6.5, 6.8, 5.4, 6.2, 5.9, 6.5, 5.6, 6.3,
    6.9, 3.8, 3.7, 3.9, 3.8, 3.7, 3.9, 3.8, 3.7, 3.9,
    3.8, 3.7, 3.9, 3.8, 3.7, 3.9, 3.8, 3.7, 3.9, 3.8,
    3.7, 3.9, 3.8, 3.7, 3.9, 3.8, 3.7, 3.9, 3.8, 3.7,
    3.9, 3.8, 3.7, 3.9, 3.8, 3.7, 3.9, 3.8, 3.7, 3.9,
    3.8]

pair_labels = ["Asp 179 : Arg 242", "Asp 210 : Arg 93", "Glu 24: Lys 208"]
temp_titles = ["(A) 310 K", "(B) 450 K"]

panel_series = [
    [asp179_310_water, asp179_310_ethanol, asp179_310_methanol,
     asp179_310_tolune, asp179_310_cyclohexane],
    [asp179_450_water, asp179_450_ethanol, asp179_450_methanol,
     asp179_450_tolune, asp179_450_cyclohexane],
    [asp210_310_water, asp210_310_ethanol, asp210_310_methanol,
     asp210_310_tolune, asp210_310_cyclohexane],
    [asp210_450_water, asp210_450_ethanol, asp210_450_methanol,
     asp210_450_tolune, asp210_450_cyclohexane],
    [glu24_310_water, glu24_310_ethanol, glu24_310_methanol,
     glu24_310_tolune, glu24_310_cyclohexane],
    [glu24_450_water, glu24_450_ethanol, glu24_450_methanol,
     glu24_450_tolune, glu24_450_cyclohexane],
]

W, H = 1086, 1428
# axes boxes in pixels: left, top, right, bottom
boxes = [
    (88, 49, 526, 390), (643, 49, 1081, 390),
    (89, 519, 527, 861), (644, 521, 1082, 861),
    (90, 1004, 527, 1348), (647, 1007, 1084, 1348),
]
ymins = [0, 0, 0, 0, 1.4, 0]
label_y = [0.933, 0.933, 0.933, 0.93, 0.92, 0.927]
title_x = [0.447, 0.45]

serif = ['Liberation Serif', 'DejaVu Serif']


def set_ticks(axis):
    axis.set_major_locator(MultipleLocator(20 if axis.axis_name == 'x' else 5))
    axis.set_minor_locator(MultipleLocator(10 if axis.axis_name == 'x' else 2.5))


fig = plt.figure(figsize=(W / 100, H / 100), dpi=100)

for i, series in enumerate(panel_series):
    l, t, r, b = boxes[i]
    ax = fig.add_axes([l / W, 1 - b / H, (r - l) / W, (b - t) / H])

    for vals, name, c in zip(series, solvents, colors):
        tt = np.linspace(0, 100, len(vals))
        ax.plot(tt, vals, color=c, lw=1.2, label=name)

    ax.set_xlim(-10, 110)
    ax.set_ylim(ymins[i], 35)
    set_ticks(ax.xaxis)
    set_ticks(ax.yaxis)
    ax.tick_params(which='both', direction='out', width=1.0, labelsize=17, pad=4)
    ax.tick_params(which='major', length=5)
    ax.tick_params(which='minor', length=3)

    # mirrored ticks on the top and right edges point into the plot
    top = ax.secondary_xaxis('top')
    right = ax.secondary_yaxis('right')
    for sec, axis in ((top, top.xaxis), (right, right.yaxis)):
        set_ticks(axis)
        axis.set_major_formatter(NullFormatter())
        sec.tick_params(which='both', direction='in', width=1.0)
        sec.tick_params(which='major', length=5)
        sec.tick_params(which='minor', length=3)
    for sp in ax.spines.values():
        sp.set_linewidth(1.0)

    ax.set_xlabel("Time (ns)", family=serif, fontsize=17, fontweight='bold',
                  labelpad=16)
    ax.set_ylabel("Distance (Å)", family=serif, fontsize=17, fontweight='bold',
                  labelpad=10)

    if i < 2:
        ax.set_title(temp_titles[i], family=serif, fontsize=22,
                     fontweight='bold', x=title_x[i], pad=7)

    ax.text(0.984, label_y[i], pair_labels[i // 2], transform=ax.transAxes,
            ha='right', va='center', fontsize=17.5, fontweight='bold')

    leg = ax.legend(loc='upper left', bbox_to_anchor=(0.008, 0.992),
                    borderaxespad=0, prop={'size': 11, 'weight': 'bold'},
                    handlelength=1.45, handletextpad=0.3, labelspacing=0.37,
                    borderpad=0.22, fancybox=False, edgecolor='0.4',
                    framealpha=1)
    leg.get_frame().set_linewidth(0.8)
    for h in leg.get_lines():
        h.set_linewidth(2.0)

fig.savefig("out.png", dpi=100)
